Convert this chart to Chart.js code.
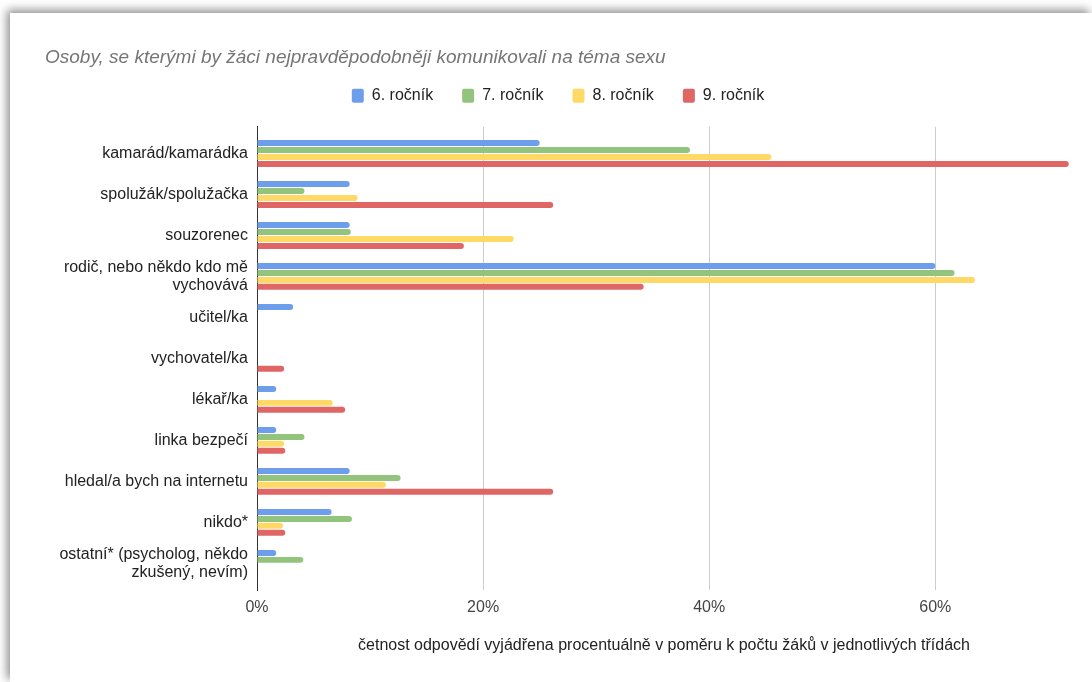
<!DOCTYPE html>
<html lang="cs">
<head>
    <meta charset="UTF-8">
    <title>Osoby, se kterými by žáci nejpravděpodobněji komunikovali na téma sexu</title>
    <script src="https://cdn.jsdelivr.net/npm/chart.js@4"></script>
    <style>
        html, body { margin: 0; padding: 0; background: #fff; overflow: hidden; }
        #card {
            position: absolute; left: 10px; top: 13px;
            width: 1082px; height: 669px;
            background: #fff;
            box-shadow: -3px -3px 9px rgba(0, 0, 0, 0.45);
        }
        canvas { display: block; }
    </style>
</head>
<body>
<div id="card">
    <canvas id="myChart" width="1082" height="669"></canvas>
</div>

<script>
    // kategorie (osa Y)
    var kategorie = [
        'kamarád/kamarádka',
        'spolužák/spolužačka',
        'souzorenec',
        ['rodič, nebo někdo kdo mě', 'vychovává'],
        'učitel/ka',
        'vychovatel/ka',
        'lékař/ka',
        'linka bezpečí',
        'hledal/a bych na internetu',
        'nikdo*',
        ['ostatní* (psycholog, někdo', 'zkušený, nevím)']
    ];

    // hodnoty v %
    var rocnik6 = [25, 8.2, 8.2, 60, 3.2, 0, 1.7, 1.7, 8.2, 6.6, 1.7];
    var rocnik7 = [38.3, 4.2, 8.3, 61.7, 0, 0, 0, 4.2, 12.7, 8.4, 4.1];
    var rocnik8 = [45.5, 8.9, 22.7, 63.5, 0, 0, 6.7, 2.4, 11.4, 2.3, 0];
    var rocnik9 = [71.8, 26.2, 18.3, 34.2, 0, 2.4, 7.8, 2.5, 26.2, 2.5, 0];

    var nazvySerii = ['6. ročník', '7. ročník', '8. ročník', '9. ročník'];
    var barvy = ['#6d9eeb', '#93c47d', '#ffd966', '#e06666'];

    var xTicky = [0, 20, 40, 60];

    var font = '"Liberation Sans", Arial, Helvetica, sans-serif';

    function serie(i, data) {
        return {
            label: nazvySerii[i],
            data: data,
            backgroundColor: barvy[i],
            borderColor: barvy[i],
            borderWidth: 0,
            borderRadius: 3,
            categoryPercentage: 0.68,
            barPercentage: 0.86
        };
    }

    // a bit more room under the legend
    var legendGap = {
        id: 'legendGap',
        beforeInit: function (chart) {
            var fit = chart.legend.fit;
            chart.legend.fit = function () {
                fit.bind(chart.legend)();
                this.height += 13;
            };
        }
    };

    var ctx = document.getElementById('myChart').getContext('2d');
    var chart = new Chart(ctx, {
        type: 'bar',
        data: {
            labels: kategorie,
            datasets: [
                serie(0, rocnik6),
                serie(1, rocnik7),
                serie(2, rocnik8),
                serie(3, rocnik9)
            ]
        },
        options: {
            indexAxis: 'y',
            responsive: false,
            animation: false,
            layout: { padding: { left: 35, right: 21, top: 0, bottom: 12 } },
            plugins: {
                title: {
                    display: true,
                    text: 'Osoby, se kterými by žáci nejpravděpodobněji komunikovali na téma sexu',
                    align: 'start',
                    color: '#757575',
                    font: { family: font, size: 19, style: 'italic', weight: 'normal' },
                    padding: { top: 33, bottom: -10 }
                },
                legend: {
                    display: true,
                    labels: {
                        color: '#222',
                        font: { family: font, size: 16 },
                        boxWidth: 12,
                        boxHeight: 14,
                        padding: 29,
                        useBorderRadius: true,
                        borderRadius: 2
                    }
                },
                tooltip: { enabled: false }
            },
            scales: {
                x: {
                    min: 0,
                    max: 72,
                    afterFit: function (scale) { scale.height = 80; },
                    afterBuildTicks: function (scale) {
                        scale.ticks = xTicky.map(function (v) { return { value: v }; });
                    },
                    ticks: {
                        color: '#444',
                        font: { family: font, size: 16 },
                        padding: 8,
                        callback: function (v) { return v + '%'; }
                    },
                    grid: { color: '#cccccc', drawTicks: false, lineWidth: 1 },
                    border: { display: false },
                    title: {
                        display: true,
                        text: 'četnost odpovědí vyjádřena procentuálně v poměru k počtu žáků v jednotlivých třídách',
                        color: '#222',
                        font: { family: font, size: 16 },
                        padding: { top: 0, bottom: 15 }
                    }
                },
                y: {
                    afterFit: function (scale) { scale.width = 212; },
                    afterBuildTicks: function (scale) {
                        // small extra space above first and below last group
                        scale._startValue -= 0.15;
                        scale._valueRange += 0.3;
                    },
                    ticks: {
                        color: '#222',
                        font: { family: font, size: 16, lineHeight: 1.125 },
                        padding: 9,
                        autoSkip: false
                    },
                    grid: { display: false, drawTicks: false },
                    border: { display: true, color: '#333', width: 1 }
                }
            }
        },
        plugins: [legendGap]
    });
</script>
</body>
</html>
